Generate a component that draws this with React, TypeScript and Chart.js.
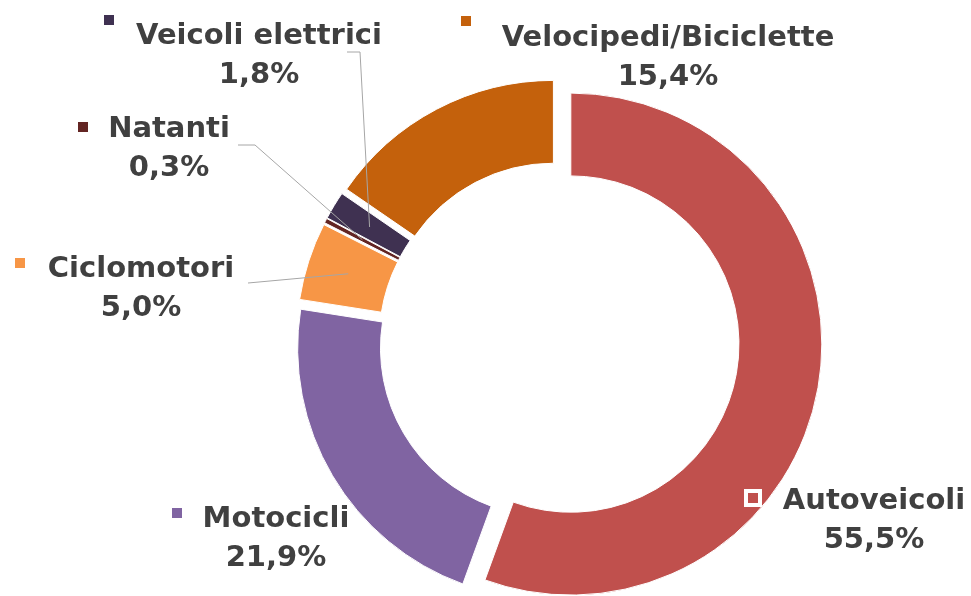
import { useEffect, useRef } from 'react';
import { Chart, registerables } from 'chart.js';

Chart.register(...registerables);

// ---- data ----
const categories = ['Autoveicoli', 'Motocicli', 'Ciclomotori', 'Natanti', 'Veicoli elettrici', 'Velocipedi/Biciclette'];
const shares = [55.5, 21.9, 5.0, 0.3, 1.8, 15.4];
const colors = ['#C0504D', '#8064A2', '#F79646', '#632523', '#3F3151', '#C4610C'];

// ---- label layout (pixel placement of the data labels, as in the original) ----
// [center x, baseline y of the first line]
const labelPos = [[874, 509], [276, 527], [141, 277], [169, 137], [259, 44], [668, 46]];
// legend-key square centres
const keyPos = [[753, 498], [177, 513], [20, 263], [83, 127], [109, 20], [466, 21]];
// leader line start points (label side); the end is the slice centre
const leaderFrom: (number[][] | null)[] = [
  null,
  null,
  [[248, 283]],
  [[238, 145], [255, 145]],
  [[347, 52], [360, 52]],
  null,
];

const EXPLODE = 12;
const LINE_GAP = 39;
const TEXT_FONT = 'bold 29px "DejaVu Sans"';
const TEXT_COLOR = '#404040';

const fmt = (v: number) => v.toFixed(1).replace('.', ',') + '%';

const explodePlugin = {
  id: 'explode',
  afterDatasetsUpdate(chart: any) {
    const meta = chart.getDatasetMeta(0);
    meta.data.forEach((arc: any) => {
      const mid = (arc.startAngle + arc.endAngle) / 2;
      arc.x += Math.cos(mid) * EXPLODE;
      arc.y += Math.sin(mid) * EXPLODE;
    });
  },
};

const labelPlugin = {
  id: 'outerLabels',
  afterDraw(chart: any) {
    const ctx = chart.ctx as CanvasRenderingContext2D;
    const meta = chart.getDatasetMeta(0);
    ctx.save();
    // leader lines
    ctx.strokeStyle = '#A6A6A6';
    ctx.lineWidth = 1;
    meta.data.forEach((arc: any, i: number) => {
      const from = leaderFrom[i];
      if (!from) return;
      const c = arc.getCenterPoint();
      ctx.beginPath();
      ctx.moveTo(from[0][0], from[0][1]);
      for (let k = 1; k < from.length; k++) ctx.lineTo(from[k][0], from[k][1]);
      ctx.lineTo(c.x, c.y);
      ctx.stroke();
    });
    // keys
    const ks = 10;
    categories.forEach((_, i) => {
      const [kx, ky] = keyPos[i];
      ctx.fillStyle = '#ffffff';
      ctx.fillRect(kx - ks / 2 - 4, ky - ks / 2 - 4, ks + 8, ks + 8);
      ctx.fillStyle = colors[i];
      ctx.fillRect(kx - ks / 2, ky - ks / 2, ks, ks);
    });
    // texts
    ctx.font = TEXT_FONT;
    ctx.fillStyle = TEXT_COLOR;
    ctx.textAlign = 'center';
    ctx.textBaseline = 'alphabetic';
    categories.forEach((name, i) => {
      const [lx, ly] = labelPos[i];
      ctx.fillText(name, lx, ly);
      ctx.fillText(fmt(shares[i]), lx, ly + LINE_GAP);
    });
    ctx.restore();
  },
};

export default function App() {
  const ref = useRef<HTMLCanvasElement>(null);
  useEffect(() => {
    const canvas = ref.current!;
    const chart = new Chart(canvas, {
      type: 'doughnut',
      data: {
        labels: categories,
        datasets: [
          {
            data: shares,
            backgroundColor: colors,
            borderColor: '#ffffff',
            borderWidth: 1,
            radius: 251,
            cutout: '67%',
          } as any,
        ],
      },
      options: {
        responsive: false,
        animation: false,
        devicePixelRatio: 1,
        radius: 251,
        cutout: '67%',
        layout: { padding: { left: 147, top: 88, right: 0, bottom: 0 } },
        plugins: { legend: { display: false }, tooltip: { enabled: false } },
      } as any,
      plugins: [explodePlugin, labelPlugin],
    });
    return () => chart.destroy();
  }, []);
  return (
    <div style={{ position: 'fixed', left: 0, top: 0, width: 971, height: 596, background: '#ffffff' }}>
      <canvas ref={ref} width={971} height={596} style={{ display: 'block' }} />
    </div>
  );
}
